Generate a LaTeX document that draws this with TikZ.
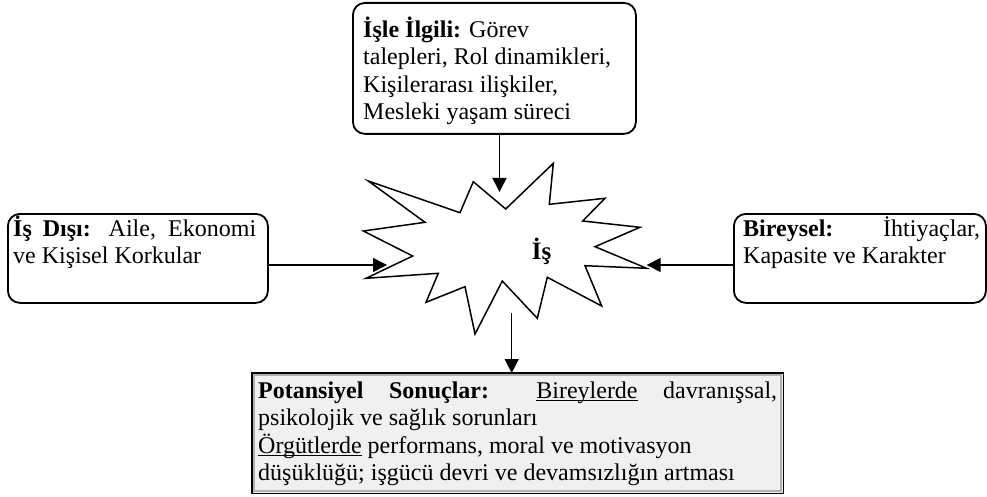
\documentclass[tikz,border=0pt]{standalone}
\usepackage{fontspec}
\setmainfont{Liberation Serif}
\usetikzlibrary{arrows.meta}
\newcommand\fstrut{\rule{0pt}{22pt}}
\newcommand\uline[1]{\leavevmode\setbox0\hbox{#1}\rlap{\rule[-2.6pt]{\wd0}{1.1pt}}\box0\relax}
\begin{document}
\begin{tikzpicture}[x=1pt,y=-1pt,
  rbox/.style={draw, line width=1.8pt, rounded corners=12pt, inner sep=0pt, fill=white},
  txt/.style={anchor=north west, inner sep=0pt, align=left,
    font=\fontsize{24}{27.5}\selectfont},
  arr/.style={line width=1.5pt, -{Triangle[length=14pt,width=14pt]}},
  starline/.style={draw, line width=1.5pt, line join=miter, fill=white}]
\useasboundingbox (0,0) rectangle (987,497);

% star
\draw[starline] (368.3,181) -- (460,212.7) -- (473.3,181.7) -- (505.7,209) -- (553.3,163.3)
  -- (549.3,204.3) -- (605,198.3) -- (582.7,221) -- (640,227.3) -- (595,246.7)
  -- (646.7,268.3) -- (585,265.7) -- (601.7,306) -- (547.3,277.3) -- (537.3,318.3)
  -- (502.3,281) -- (475,334) -- (465,286.7) -- (426,302.3) -- (438.3,273.3)
  -- (366,278.3) -- (412.7,256) -- (363.3,231) -- (425,222.3) -- cycle;
\node[anchor=base, inner sep=0pt, font=\fontsize{25}{27.5}\selectfont\bfseries] (is) at (541.5,259) {İş};

% boxes
\node[rbox, minimum width=283pt, minimum height=131pt, anchor=north west] (top) at (352,2) {};
\node[txt] (topt) at (363,15) {\fstrut\textbf{İşle İlgili:} Görev\\talepleri, Rol dinamikleri,\\Kişilerarası ilişkiler,\\Mesleki yaşam süreci};

\node[rbox, minimum width=260pt, minimum height=89pt, anchor=north west] (lft) at (7,213) {};
\node[txt] (lftt) at (13,214) {\fstrut\makebox[243pt][s]{\textbf{İş Dışı:} Aile, Ekonomi}\\ve Kişisel Korkular};

\node[rbox, minimum width=252pt, minimum height=89pt, anchor=north west] (rgt) at (733,213) {};
\node[txt] (rgtt) at (743,214) {\fstrut\makebox[237pt][s]{\textbf{Bireysel:} İhtiyaçlar,}\\Kapasite ve Karakter};

% bottom box
\node[draw=none, fill={rgb,255:red,240;green,240;blue,240}, minimum width=531pt, minimum height=120pt, anchor=north west, inner sep=0pt] (bot) at (252,373) {};
\draw[line width=2.4pt, draw={rgb,255:red,175;green,175;blue,175}] ([xshift=2.2pt,yshift=-2.2pt]bot.north west) rectangle ([xshift=-2.2pt,yshift=2.2pt]bot.south east);
\draw[line width=1.5pt] (bot.north west) rectangle (bot.south east);
\node[txt] (bott) at (258,376) {\fstrut\makebox[519pt][s]{\textbf{Potansiyel Sonuçlar:} \uline{Bireylerde} davranışsal,}\\psikolojik ve sağlık sorunları\\\uline{Örgütlerde} performans, moral ve motivasyon\\düşüklüğü; işgücü devri ve devamsızlığın artması};

% connector end points
\coordinate (tipT) at (499.5,192);
\coordinate (tipL) at (387,265);
\coordinate (tipR) at (646.7,265);
\coordinate (srcB) at (511.7,313);

\draw[arr] (top.south -| tipT) -- (tipT);
\draw[arr] (lft.east |- tipL) -- (tipL);
\draw[arr] (rgt.west |- tipR) -- (tipR);
\draw[arr] (srcB) -- (bot.north -| srcB);
\end{tikzpicture}
\end{document}
